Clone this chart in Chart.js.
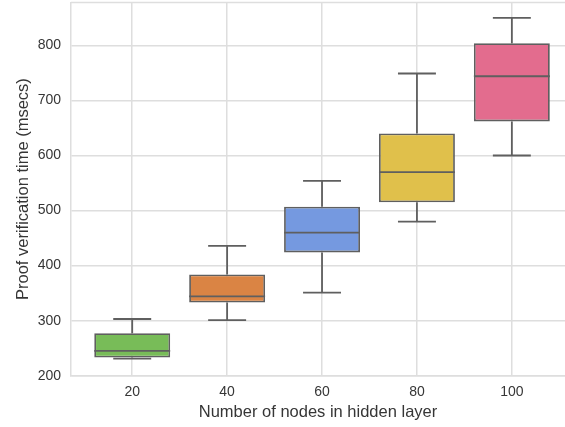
<!DOCTYPE html>
<html>
<head>
<meta charset="utf-8">
<script src="https://cdn.jsdelivr.net/npm/chart.js@4/dist/chart.umd.min.js"></script>
<style>
  body { margin: 0; background: #fff; }
  #wrap { width: 565px; height: 427px; position: relative; }
</style>
</head>
<body>
<div id="wrap"><canvas id="grafico"></canvas></div>
<script>
const categories = ["20", "40", "60", "80", "100"];
const whiskerLow = [231, 301, 351, 480, 600];
const q1 = [233, 333, 424, 515, 662];
const median = [245, 344, 460, 570, 744];
const q3 = [277, 384, 507, 640, 804];
const whiskerHigh = [303, 436, 554, 749, 850];
const yTicks = [200, 300, 400, 500, 600, 700, 800];
const cores = ["#78bc58", "#da8444", "#7599e0", "#e0c04b", "#e36c8e"];

const gridColor = "#dedede";
const lineColor = "#5f5f5f";
const textColor = "#363636";
const fonte = "'Liberation Sans', Arial, sans-serif";

// whiskers, caps, medians and top frame line
const boxExtras = {
  id: "boxExtras",
  afterDatasetsDraw(chart) {
    const ctx = chart.ctx;
    const xs = chart.scales.x;
    const ys = chart.scales.y;
    const meta = chart.getDatasetMeta(0);
    ctx.save();
    ctx.strokeStyle = lineColor;
    ctx.lineWidth = 1.8;
    categories.forEach((c, i) => {
      const x = xs.getPixelForValue(i);
      const w = meta.data[i].width;
      const cap = w / 4;
      ctx.beginPath();
      ctx.moveTo(x, ys.getPixelForValue(whiskerLow[i]));
      ctx.lineTo(x, ys.getPixelForValue(q1[i]));
      ctx.moveTo(x, ys.getPixelForValue(q3[i]));
      ctx.lineTo(x, ys.getPixelForValue(whiskerHigh[i]));
      ctx.moveTo(x - cap, ys.getPixelForValue(whiskerLow[i]));
      ctx.lineTo(x + cap, ys.getPixelForValue(whiskerLow[i]));
      ctx.moveTo(x - cap, ys.getPixelForValue(whiskerHigh[i]));
      ctx.lineTo(x + cap, ys.getPixelForValue(whiskerHigh[i]));
      ctx.moveTo(x - w / 2, ys.getPixelForValue(median[i]));
      ctx.lineTo(x + w / 2, ys.getPixelForValue(median[i]));
      ctx.stroke();
    });
    ctx.restore();
  },
  beforeDatasetsDraw(chart) {
    const ctx = chart.ctx;
    const a = chart.chartArea;
    ctx.save();
    ctx.strokeStyle = gridColor;
    ctx.lineWidth = 1.5;
    ctx.beginPath();
    ctx.moveTo(a.left, a.top);
    ctx.lineTo(a.right + 2, a.top);
    ctx.stroke();
    ctx.restore();
  }
};

new Chart(document.getElementById("grafico"), {
  type: "bar",
  data: {
    datasets: [{
      data: categories.map((c, i) => ({ x: i, y: [q1[i], q3[i]] })),
      backgroundColor: cores,
      borderColor: lineColor,
      borderWidth: 1.8,
      borderSkipped: false,
      barPercentage: 0.8,
      categoryPercentage: 1
    }]
  },
  options: {
    responsive: true,
    maintainAspectRatio: false,
    animation: false,
    layout: { padding: { left: 14, top: 2.5, right: 0, bottom: 0 } },
    plugins: {
      legend: { display: false },
      tooltip: { enabled: false }
    },
    scales: {
      x: {
        type: "linear",
        offset: false,
        min: -0.645,
        max: 4.56,
        afterBuildTicks: (axis) => { axis.ticks = categories.map((c, i) => ({ value: i })); },
        afterFit: (axis) => {
          axis.height = 51.3;
          axis.paddingLeft = 0; axis.paddingRight = 0;
          axis.paddingTop = 0; axis.paddingBottom = 0;
        },
        ticks: {
          color: textColor,
          font: { family: fonte, size: 14 },
          padding: 8,
          maxRotation: 0,
          callback: (v) => categories[v]
        },
        grid: { color: gridColor, lineWidth: 1.5, drawTicks: false, offset: false },
        border: { color: gridColor, width: 1.5 },
        title: {
          display: true,
          text: "Number of nodes in hidden layer",
          color: textColor,
          font: { family: fonte, size: 16.5 },
          padding: { top: 0, bottom: 5 }
        }
      },
      y: {
        min: 200,
        max: 878,
        afterBuildTicks: (axis) => { axis.ticks = yTicks.map(v => ({ value: v })); },
        afterFit: (axis) => {
          axis.width = 57;
          axis.paddingLeft = 0; axis.paddingRight = 0;
          axis.paddingTop = 0; axis.paddingBottom = 0;
        },
        ticks: {
          color: textColor,
          font: { family: fonte, size: 14 },
          padding: 10
        },
        grid: { color: gridColor, lineWidth: 1.5, drawTicks: false },
        border: { color: gridColor, width: 1.5 },
        title: {
          display: true,
          text: "Proof verification time (msecs)",
          color: textColor,
          font: { family: fonte, size: 16.5 },
          padding: { top: 0, bottom: 6 }
        }
      }
    }
  },
  plugins: [boxExtras]
});
</script>
</body>
</html>
